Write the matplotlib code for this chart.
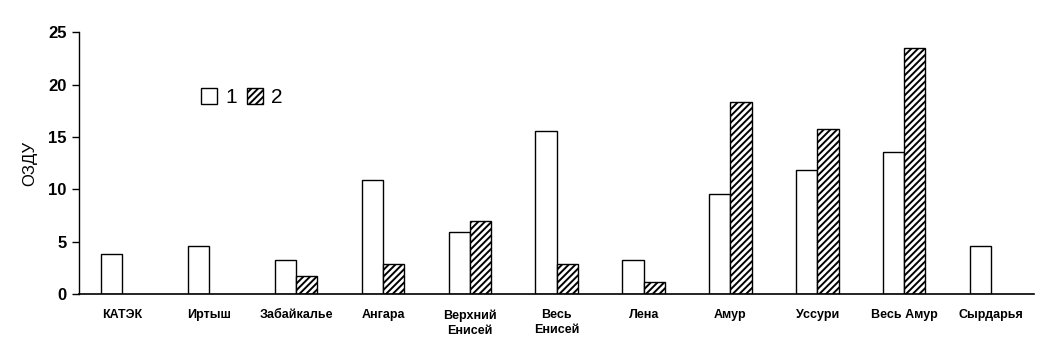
import numpy as np
import matplotlib.pyplot as plt

plt.rcParams['hatch.linewidth'] = 1.4

# data
categories = ['КАТЭК', 'Иртыш', 'Забайкалье', 'Ангара', 'Верхний\nЕнисей',
              'Весь\nЕнисей', 'Лена', 'Амур', 'Уссури', 'Весь Амур', 'Сырдарья']
series1 = [3.8, 4.6, 3.3, 10.9, 5.9, 15.6, 3.3, 9.6, 11.8, 13.6, 4.6]
series2 = [0, 0, 1.7, 2.9, 7.0, 2.9, 1.2, 18.3, 15.8, 23.5, 0]
yticks = [0, 5, 10, 15, 20, 25]

fig = plt.figure(figsize=(10.42, 3.57), dpi=100)
ax = fig.add_axes([0.0758, 0.176, 0.917, 0.734])

x = np.arange(len(categories))
w = 0.245
ax.bar(x - w / 2, series1, w, color='white', edgecolor='black', linewidth=1, label='1')
vals2 = np.array(series2, dtype=float)
m = vals2 > 0
ax.bar(x[m] + w / 2, vals2[m], w, color='white', edgecolor='black', linewidth=1,
       hatch='/////', label='2')

ax.set_xlim(-0.5, len(categories) - 0.5)
ax.set_ylim(0, 25)
ax.set_yticks(yticks)
ax.set_xticks(x)
ax.set_xticklabels(categories, fontsize=9, fontweight='bold', family='Liberation Sans',
                   linespacing=1.3)
ax.tick_params(axis='x', length=0, pad=11)
ax.tick_params(axis='y', direction='out', length=5, width=1, pad=4)
for lab in ax.get_yticklabels():
    lab.set_fontsize(12)
    lab.set_fontweight('bold')
    lab.set_family('Liberation Sans')
ax.set_ylabel('ОЗДУ', fontsize=12, family='Liberation Sans', labelpad=8)

ax.spines['top'].set_visible(False)
ax.spines['right'].set_visible(False)
ax.spines['left'].set_linewidth(1)
ax.spines['bottom'].set_linewidth(1.2)

leg = ax.legend(ncol=2, frameon=False, loc='center left', bbox_to_anchor=(0.108, 0.75),
                prop={'family': 'Liberation Sans', 'size': 15},
                handlelength=0.75, handleheight=0.75, handletextpad=0.4, columnspacing=0.5)

fig.savefig('out.png', dpi=100)
